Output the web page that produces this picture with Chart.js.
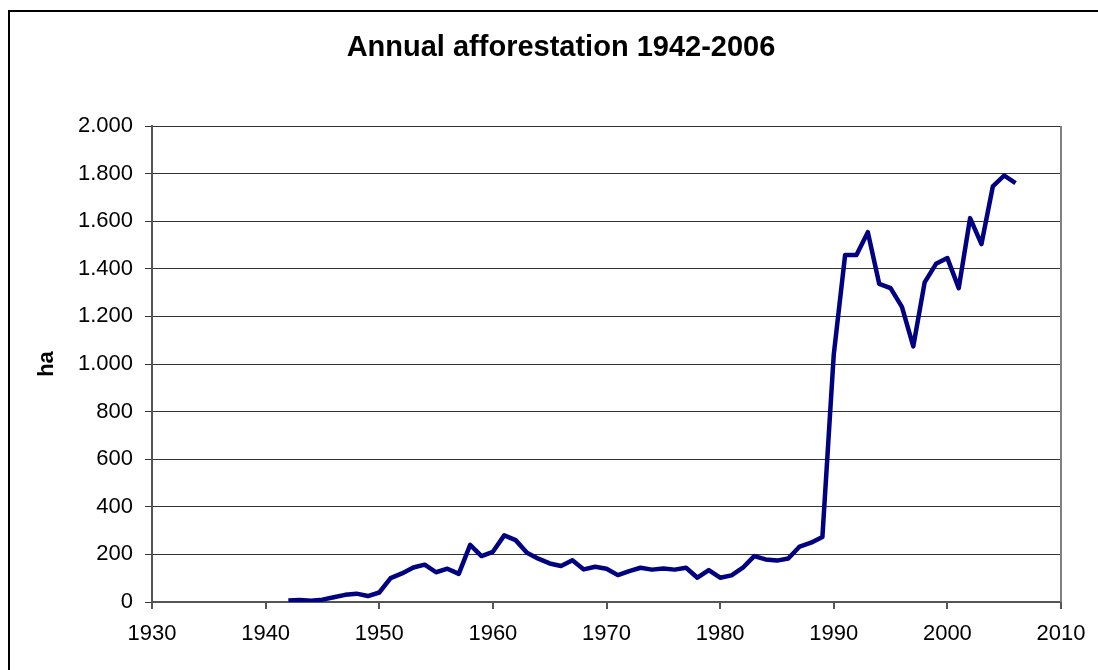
<!DOCTYPE html>
<html>
<head>
<meta charset="utf-8">
<script src="https://cdn.jsdelivr.net/npm/chart.js@4"></script>
<style>
  html, body { margin: 0; padding: 0; background: #fff; overflow: hidden; }
  #c { display: block; }
</style>
</head>
<body>
<canvas id="c" width="1098" height="670"></canvas>
<script>
const FONT = "'Liberation Sans', Arial, sans-serif";

const titleText = 'Annual afforestation 1942-2006';
const yAxisLabel = 'ha';

const years = [
  1942, 1943, 1944, 1945, 1946, 1947, 1948, 1949, 1950,
  1951, 1952, 1953, 1954, 1955, 1956, 1957, 1958, 1959, 1960,
  1961, 1962, 1963, 1964, 1965, 1966, 1967, 1968, 1969, 1970,
  1971, 1972, 1973, 1974, 1975, 1976, 1977, 1978, 1979, 1980,
  1981, 1982, 1983, 1984, 1985, 1986, 1987, 1988, 1989, 1990,
  1991, 1992, 1993, 1994, 1995, 1996, 1997, 1998, 1999, 2000,
  2001, 2002, 2003, 2004, 2005, 2006
];

// hectares planted per year
const hectares = [
  6, 8, 5, 10, 20, 30, 35, 25, 40,
  100, 120, 145, 157, 125, 140, 118, 240, 193, 211,
  280, 260, 207, 182, 162, 151, 175, 137, 148, 140,
  113, 130, 144, 136, 141, 136, 144, 102, 134, 102,
  112, 144, 193, 179, 174, 183, 233, 249, 273, 1039,
  1458, 1458, 1554, 1337, 1319, 1240, 1074, 1343, 1421, 1445,
  1319, 1613, 1504, 1746, 1792, 1760
];

const xTicks = [1930, 1940, 1950, 1960, 1970, 1980, 1990, 2000, 2010];
const yTicks = [0, 200, 400, 600, 800, 1000, 1200, 1400, 1600, 1800, 2000];

// 1.800 style thousands separator
function fmtHa(v) {
  if (v < 1000) return String(v);
  return Math.floor(v / 1000) + '.' + String(v % 1000).padStart(3, '0');
}

const headerPlugin = {
  id: 'header',
  afterDraw(chart) {
    const { ctx, chartArea, width, height } = chart;
    ctx.save();
    // outer chart frame, runs off the right and bottom edges
    ctx.strokeStyle = '#000';
    ctx.lineWidth = 2;
    ctx.beginPath();
    ctx.moveTo(9, height + 5);
    ctx.lineTo(9, 11);
    ctx.lineTo(width + 5, 11);
    ctx.stroke();
    // right edge of the plot area
    ctx.strokeStyle = '#808080';
    ctx.beginPath();
    ctx.moveTo(chartArea.right, chartArea.top);
    ctx.lineTo(chartArea.right, chartArea.bottom);
    ctx.stroke();
    // title
    ctx.fillStyle = '#000';
    ctx.font = 'bold 29px ' + FONT;
    ctx.textAlign = 'center';
    ctx.textBaseline = 'middle';
    ctx.fillText(titleText, 561, 48);
    ctx.restore();
  }
};

new Chart(document.getElementById('c'), {
  type: 'line',
  data: {
    datasets: [{
      data: years.map((y, i) => ({ x: y, y: hectares[i] })),
      borderColor: '#000080',
      borderWidth: 4.5,
      pointRadius: 0,
      tension: 0,
      borderJoinStyle: 'round',
      borderCapStyle: 'butt'
    }]
  },
  options: {
    responsive: false,
    animation: false,
    layout: { padding: { left: 0, right: 37, top: 126, bottom: 0 } },
    plugins: { legend: { display: false }, tooltip: { enabled: false }, title: { display: false } },
    scales: {
      x: {
        type: 'linear',
        min: 1930, max: 2010,
        afterBuildTicks: s => { s.ticks = xTicks.map(v => ({ value: v })); },
        afterFit: s => { s.height = 68; },
        ticks: { color: '#000', font: { family: FONT, size: 22 }, padding: 12, maxRotation: 0, callback: v => String(v) },
        grid: { drawOnChartArea: false, drawTicks: true, tickLength: 7, color: '#555', lineWidth: 2 },
        border: { color: '#555', width: 2 }
      },
      y: {
        min: 0, max: 2000,
        afterBuildTicks: s => { s.ticks = yTicks.map(v => ({ value: v })); },
        afterFit: s => { s.width = 152; },
        ticks: { color: '#000', font: { family: FONT, size: 22 }, padding: 12, callback: v => fmtHa(v) },
        grid: { color: '#333', lineWidth: 1, tickLength: 7, drawTicks: true },
        border: { color: '#555', width: 2 },
        title: { display: true, text: yAxisLabel, color: '#000', font: { family: FONT, size: 22, weight: 'bold' }, padding: { top: 34, bottom: 0 } }
      }
    }
  },
  plugins: [headerPlugin]
});
</script>
</body>
</html>
